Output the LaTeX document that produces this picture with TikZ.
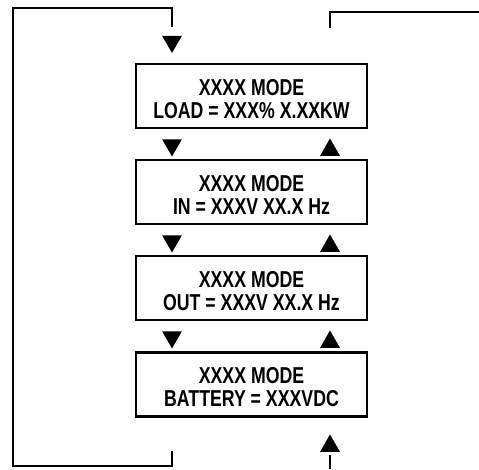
\documentclass[tikz,border=0pt]{standalone}
\usepackage{fontspec}
\newfontfamily\condfont[FakeStretch=0.77]{Liberation Sans Bold}
\usetikzlibrary{shapes.geometric}
\newcommand\modetext[2]{\raisebox{1pt}[0pt][0pt]{\begin{tabular}[t]{@{}c@{}}#1\\#2\end{tabular}}}
\tikzset{
  modebox/.style={draw, line width=2.4pt, minimum width=231pt, minimum height=64pt,
    inner sep=0pt, font=\condfont\fontsize{23}{23.3}\selectfont},
  tridown/.style={regular polygon, regular polygon sides=3, shape border rotate=180,
    fill=black, minimum size=23pt, inner sep=0pt},
  triup/.style={regular polygon, regular polygon sides=3,
    fill=black, minimum size=23pt, inner sep=0pt},
  loopline/.style={line width=2pt}
}
\begin{document}
\begin{tikzpicture}[x=1pt, y=-1pt]
  \useasboundingbox (0,0) rectangle (479,469);
  % display screens
  \node[modebox] (load) at (251.5,96)  {\modetext{XXXX MODE}{LOAD = XXX\% X.XXKW}};
  \node[modebox] (in)   at (251.5,192) {\modetext{XXXX MODE}{IN = XXXV XX.X Hz}};
  \node[modebox] (out)  at (251.5,288) {\modetext{XXXX MODE}{OUT = XXXV XX.X Hz}};
  \node[modebox] (batt) at (251.5,384.5) {\modetext{XXXX MODE}{BATTERY = XXXVDC}};
  % scroll down / scroll up marks
  \foreach \n/\y in {0/41.5,1/145,2/241,3/337} \node[tridown] (dn\n) at (172,\y) {};
  \foreach \n/\y in {1/150,2/246,3/342,4/446} \node[triup] (up\n) at (330,\y) {};
  % wrap-around lines
  \coordinate (lin)   at (172,451);
  \coordinate (lout)  at (172,27);
  \coordinate (rin)   at (330,28);
  \coordinate (rout)  at (479,12);
  \coordinate (rbot)  at (330,455);
  \coordinate (rbot2) at (330,469);
  \draw[loopline] (lin) -- (172,466) -| (13,8) -| (lout);
  \draw[loopline] (rin) |- (rout);
  \draw[loopline] (rbot) -- (rbot2);
\end{tikzpicture}
\end{document}
